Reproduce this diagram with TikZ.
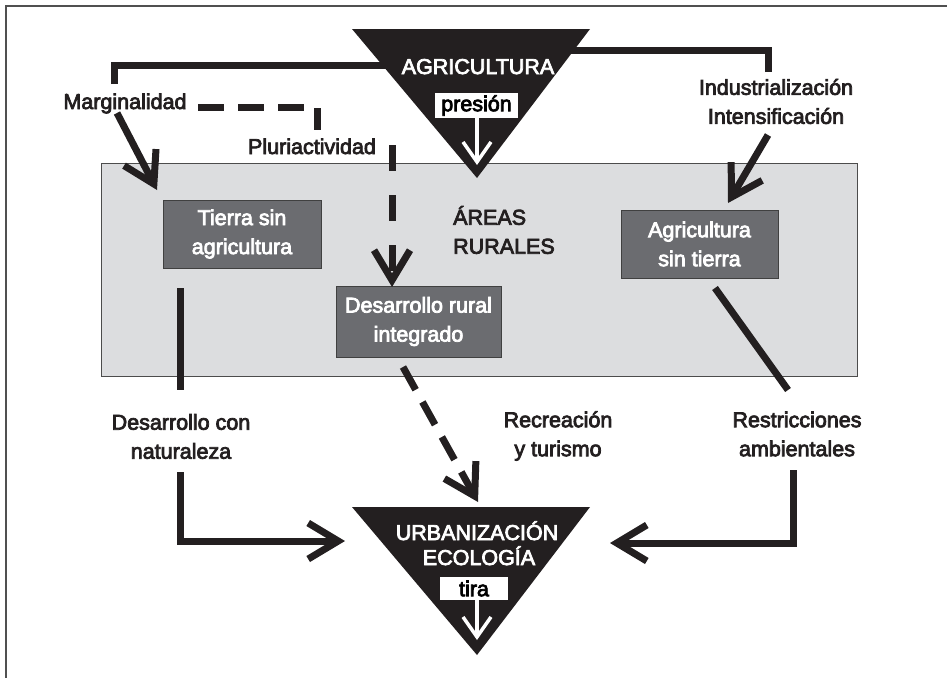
\documentclass[tikz,border=0pt]{standalone}
\usepackage{fontspec}
\setmainfont{Liberation Sans}
\newfontfamily\medfont{Liberation Sans}[FakeBold=3.5]
\usetikzlibrary{arrows.meta}
\definecolor{ink}{HTML}{231F20}
\definecolor{panel}{HTML}{DCDDDF}
\definecolor{boxfill}{HTML}{6B6C70}
\definecolor{framecol}{HTML}{505050}
\begin{document}
\begin{tikzpicture}[x=1pt,y=-1pt,
  font=\medfont\fontsize{21.5}{29}\selectfont,
  conn/.style={draw=ink,line width=7pt},
  bigtip/.style={-{Straight Barb[length=30pt,width=36pt]}},
  dashA/.style={dash pattern=on 26pt off 14pt},
  dashB/.style={dash pattern=on 26pt off 24pt},
  lbl/.style={text=ink,align=center,inner sep=0pt},
  darkbox/.style={fill=boxfill,draw=black!75,line width=1pt,text=white,align=center,inner sep=0pt},
  tag/.style={fill=white,text=black,inner sep=0pt},
  whitearrow/.style={draw=white,line width=3.5pt,-{Straight Barb[length=20pt,width=28pt]}},
  tri/.style={fill=ink},
  trilbl/.style={text=white,inner sep=0pt}]
\useasboundingbox (0,0) rectangle (947,678);
% frame
\draw[framecol,line width=1.2pt] (947,6) -- (6,6) -- (6,678);
% rural panel
\draw[fill=panel,draw=black!70,line width=1pt] (101,163) rectangle (857,376);
\node[lbl,align=left,anchor=west] (areas) at (453,230) {ÁREAS\\RURALES};
% boxes
\node[darkbox,minimum width=158pt,minimum height=68pt] (tierra) at (242,234) {Tierra sin\\agricultura};
\node[darkbox,minimum width=157pt,minimum height=68pt] (agsin) at (699.5,244) {Agricultura\\sin tierra};
\node[darkbox,minimum width=165pt,minimum height=71pt] (drural) at (418.5,321.5) {Desarrollo rural\\integrado};
% labels
\node[lbl,anchor=base] (marg) at (125,109) {Marginalidad};
\node[lbl,anchor=base] (pluri) at (312,154) {Pluriactividad};
\node[lbl] (indus) at (776,101.5) {Industrialización\\Intensificación};
\node[lbl] (dcn) at (181,436.5) {Desarrollo con\\naturaleza};
\node[lbl] (recr) at (558,436) {Recreación\\y turismo};
\node[lbl] (restr) at (797,434) {Restricciones\\ambientales};
% coordinates
\coordinate (agrA) at (352,29);
\coordinate (agrB) at (590,29);
\coordinate (agrC) at (477,178);
\coordinate (urbA) at (352,507);
\coordinate (urbB) at (590,507);
\coordinate (urbC) at (477,655);
\coordinate (agrLin) at (400,65);
\coordinate (agrRin) at (560,50);
% connectors
\draw[conn] (114,84) -- (114,65) -- (agrLin);
\draw[conn] (768,72) -- (768,50) -- (agrRin);
\draw[conn,bigtip] (117,113) -- (157,190);
\draw[conn,bigtip] (768,135) -- (728,203);
\draw[conn,dashA] (198,107) -- (317,107) -- (317,130);
\draw[conn,dashB,bigtip] (392,145) -- (392,287);
\draw[conn] (180,288) -- (180,390);
\draw[conn,bigtip] (180,472) -- (180,541) -- (345,541);
\draw[conn] (715,288) -- (788,390);
\draw[conn,bigtip] (793,470) -- (793,543) -- (610,543);
\draw[conn,dashA,bigtip] (403,367) -- (478,502);
% triangles
\fill[tri] (agrA) -- (agrB) -- (agrC) -- cycle;
\fill[tri] (urbA) -- (urbB) -- (urbC) -- cycle;
\node[trilbl,anchor=base] (agri) at (478,74) {AGRICULTURA};
\node[tag,minimum width=83pt,minimum height=25pt] (presion) at (476.5,105.5) {presión};
\draw[whitearrow] (presion.south -| agrC) -- (477,165);
\node[trilbl,anchor=base] (urb) at (477,540) {URBANIZACIÓN};
\node[trilbl,anchor=base] (eco) at (479,565) {ECOLOGÍA};
\node[tag,minimum width=68pt,minimum height=23pt] (tira) at (474,588.5) {tira};
\draw[whitearrow] (tira.south -| urbC) -- (477,640);
\end{tikzpicture}
\end{document}
